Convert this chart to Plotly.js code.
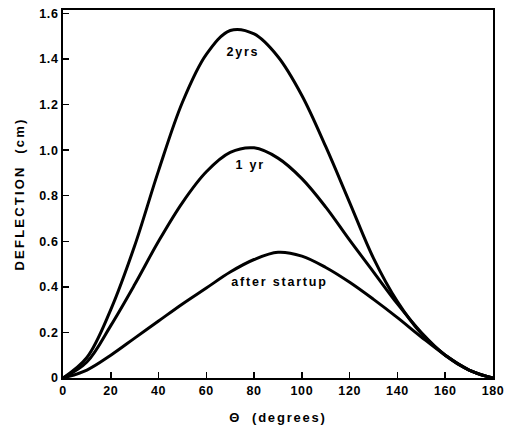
<!DOCTYPE html>
<html>
<head>
<meta charset="utf-8">
<script src="https://cdn.plot.ly/plotly-3.0.1.min.js"></script>
<style>
  body { margin: 0; padding: 0; background: #fff; }
  #chart { width: 505px; height: 429px; }
  .annotation text { letter-spacing: 1.8px; }
  .g-ytitle text { letter-spacing: 2.2px; }
  .g-xtitle text { letter-spacing: 1.8px; }
  .xtick text, .ytick text { letter-spacing: 0.6px; }
</style>
</head>
<body>
<div id="chart"></div>
<script>
// Angle (degrees)
const theta = [0, 10, 20, 30, 40, 50, 60, 70, 80, 90, 100, 110, 120, 130, 140, 150, 160, 170, 180];
// Deflection (cm)
const twoYears     = [0, 0.09, 0.30, 0.58, 0.91, 1.21, 1.42, 1.525, 1.51, 1.41, 1.24, 1.015, 0.77, 0.525, 0.335, 0.195, 0.10, 0.035, 0];
const oneYear      = [0, 0.07, 0.23, 0.41, 0.60, 0.77, 0.905, 0.99, 1.01, 0.965, 0.875, 0.75, 0.605, 0.465, 0.325, 0.20, 0.10, 0.035, 0];
const afterStartup = [0, 0.035, 0.10, 0.175, 0.25, 0.325, 0.395, 0.465, 0.52, 0.552, 0.535, 0.485, 0.42, 0.345, 0.265, 0.18, 0.10, 0.035, 0];

const seriesNames = ['2yrs', '1 yr', 'after startup'];
const seriesData = [twoYears, oneYear, afterStartup];
const labelX = [75.3, 78.3, 90.8];
const labelY = [1.43, 0.935, 0.42];

const xTicks = [0, 20, 40, 60, 80, 100, 120, 140, 160, 180];
const yTicks = [0, 0.2, 0.4, 0.6, 0.8, 1.0, 1.2, 1.4, 1.6];
const yTickText = ['0', '0.2', '0.4', '0.6', '0.8', '1.0', '1.2', '1.4', '1.6'];

const traces = seriesData.map((ys, i) => ({
  x: theta,
  y: ys,
  name: seriesNames[i],
  type: 'scatter',
  mode: 'lines',
  line: { color: '#000', width: 3, shape: 'spline', smoothing: 1 },
  hoverinfo: 'skip'
}));

const fam = 'Liberation Sans, Arial, sans-serif';
const tickFont = { family: fam, size: 12.5, color: '#000', weight: 'bold' };

const layout = {
  width: 505,
  height: 429,
  margin: { l: 63, r: 12, t: 10, b: 51 },
  paper_bgcolor: '#fff',
  plot_bgcolor: '#fff',
  showlegend: false,
  xaxis: {
    range: [0, 180],
    tickvals: xTicks,
    ticktext: xTicks.map(String),
    ticks: 'inside',
    ticklen: 6,
    tickwidth: 1.5,
    tickcolor: '#000',
    showline: true,
    linecolor: '#000',
    linewidth: 2,
    mirror: true,
    showgrid: false,
    zeroline: false,
    tickfont: tickFont,
    title: { text: 'Θ  (degrees)', font: { family: fam, size: 13, color: '#000', weight: 'bold' }, standoff: 16 }
  },
  yaxis: {
    range: [0, 1.615],
    tickvals: yTicks,
    ticktext: yTickText,
    ticks: 'inside',
    ticklen: 6,
    tickwidth: 1.5,
    tickcolor: '#000',
    showline: true,
    linecolor: '#000',
    linewidth: 2,
    mirror: true,
    showgrid: false,
    zeroline: false,
    tickfont: tickFont,
    title: { text: 'DEFLECTION  (cm)', font: { family: fam, size: 13, color: '#000', weight: 'bold' }, standoff: 12 }
  },
  annotations: seriesNames.map((n, i) => ({
    x: labelX[i],
    y: labelY[i],
    xref: 'x',
    yref: 'y',
    text: n,
    showarrow: false,
    font: { family: fam, size: 12.5, color: '#000', weight: 'bold' }
  }))
};

Plotly.newPlot('chart', traces, layout, { displayModeBar: false, staticPlot: true });
</script>
</body>
</html>
